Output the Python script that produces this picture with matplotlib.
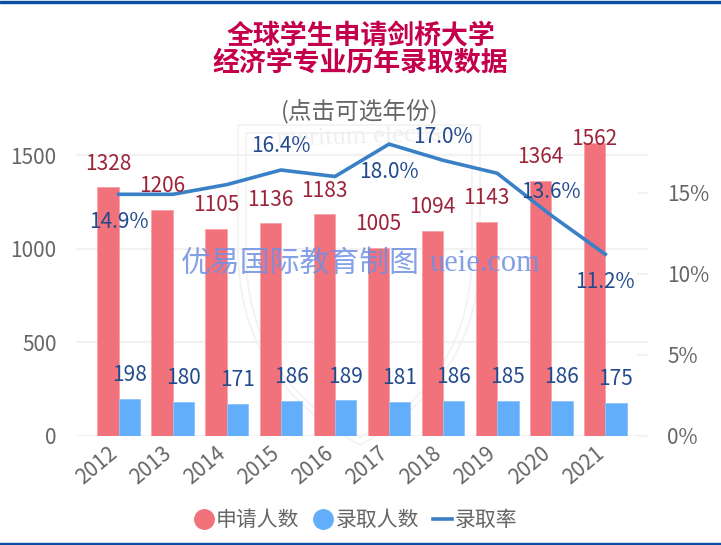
import matplotlib
matplotlib.use('Agg')
import matplotlib.pyplot as plt
import matplotlib.transforms as mtrans
import numpy as np
from matplotlib.lines import Line2D
from matplotlib.patches import PathPatch, Rectangle
from matplotlib.path import Path

plt.rcParams['font.family'] = ['Noto Sans CJK SC', 'DejaVu Sans']

years = ['2012', '2013', '2014', '2015', '2016', '2017', '2018', '2019', '2020', '2021']
applicants = [1328, 1206, 1105, 1136, 1183, 1005, 1094, 1143, 1364, 1562]
admitted = [198, 180, 171, 186, 189, 181, 186, 185, 186, 175]
admit_rate = [14.9, 14.9, 15.5, 16.4, 16.0, 18.0, 17.0, 16.2, 13.6, 11.2]

# only these rate labels are shown in the chart, True = above the line
rate_labels = {0: False, 3: True, 5: False, 6: True, 8: True, 9: False}

W, H = 721, 545
RED = '#f2727c'
BLUE = '#62aefb'
LINE = '#3a80c6'
GRAY = '#666666'
RULE = '#0b4da2'


def px(px_x, px_y):
    return px_x / W, 1 - px_y / H


fig = plt.figure(figsize=(W / 100, H / 100), dpi=100)
ax = fig.add_axes([76 / W, 1 - 435.7 / H, 572 / W, 305.7 / H])
ax2 = ax.twinx()

x = np.arange(len(years))
width = 0.395

# faint crest behind the chart
for inset in (0, 8):
    verts = [(238 + inset, 125 + inset), (480 - inset, 125 + inset), (480 - inset, 250),
             (480 - inset, 380), (360, 445 - inset), (238 + inset, 380), (238 + inset, 250), (238 + inset, 125 + inset)]
    codes = [Path.MOVETO, Path.LINETO, Path.LINETO, Path.CURVE3, Path.CURVE3, Path.CURVE3, Path.CURVE3, Path.LINETO]
    fig.add_artist(PathPatch(Path([px(*v) for v in verts], codes), transform=fig.transFigure, fill=False,
                             ec='#f3f3f3', lw=1.3, zorder=-1))
fig.text(*px(359, 137), 'meritum electis', family='Liberation Serif', fontsize=19,
         color='#efefef', ha='center', va='center', rotation=2, zorder=-1)

ax.set_zorder(ax2.get_zorder() - 1)
ax.patch.set_visible(False)
ax2.patch.set_visible(False)

ax.bar(x - width / 2, applicants, width, color=RED, edgecolor='#f7a3aa', linewidth=0.6, zorder=3)
ax.bar(x + width / 2, admitted, width, color=BLUE, edgecolor='#8cc4fc', linewidth=0.6, zorder=3)

ax2.plot(x, admit_rate, color=LINE, lw=2.6, solid_joinstyle='miter', zorder=4)

scale = 18.87 / 1634
for i, v in enumerate(applicants):
    # the tallest label gets pushed down against the top of the plot
    dy = 3 if i == 9 else 17
    ax2.annotate(str(v), (x[i] - width / 2, v * scale), xytext=(0, dy), textcoords='offset points',
                 ha='center', va='center', fontsize=15, color='#9c2339', zorder=6)
for i, v in enumerate(admitted):
    ax2.annotate(str(v), (x[i] + width / 2, v * scale), xytext=(0, 17), textcoords='offset points',
                 ha='center', va='center', fontsize=15, color='#224a8c', zorder=6)
for i, above in rate_labels.items():
    ax2.annotate(f'{admit_rate[i]:.1f}%', (x[i], admit_rate[i]), xytext=(0, 17 if above else -20),
                 textcoords='offset points', ha='center', va='center', fontsize=15, color='#224a8c', zorder=6)

ax.set_xlim(-0.79, 9.79)
ax.set_ylim(0, 1634)
ax2.set_ylim(0, 18.87)

ax.set_yticks([0, 500, 1000, 1500])
ax2.set_yticks([0, 5, 10, 15])
ax2.set_yticklabels(['0%', '5%', '10%', '15%'])
ax.set_xticks(x)
ax.set_xticklabels(years, rotation=40, ha='right', rotation_mode='anchor')

ax.grid(axis='y', color='#f2f2f2', lw=1.6, zorder=1)
ax.set_axisbelow(True)
for s in ['top', 'right', 'left', 'bottom']:
    ax.spines[s].set_visible(False)
    ax2.spines[s].set_visible(False)

ax.tick_params(axis='x', length=0, pad=5, labelsize=15, labelcolor=GRAY)
ax.tick_params(axis='y', length=0, pad=14, labelsize=15, labelcolor=GRAY)
ax2.tick_params(axis='y', length=8, width=1.6, color='#f2f2f2', direction='in', pad=14, labelsize=15, labelcolor=GRAY)

# year labels end left of the bar pair
shift = mtrans.ScaledTranslation(-11 / 100, 0, fig.dpi_scale_trans)
for lab in ax.get_xticklabels():
    lab.set_transform(lab.get_transform() + shift)

# watermark over the bars
fig.text(*px(300, 263), '优易国际教育制图', fontsize=21.5, color='#6f8fe3', alpha=0.85, ha='center', va='center', zorder=10)
fig.text(*px(485, 263), 'ueie.com', family='Liberation Serif', fontsize=22, color='#6f8fe3', alpha=0.85,
         ha='center', va='center', zorder=10)

fig.text(*px(361, 36), '全球学生申请剑桥大学', fontsize=19.4, fontweight='bold', color='#c4004c', ha='center', va='center')
fig.text(*px(360, 62), '经济学专业历年录取数据', fontsize=19.4, fontweight='bold', color='#c4004c', ha='center', va='center')
fig.text(*px(360, 111), '(点击可选年份)', fontsize=17, color=GRAY, ha='center', va='center')

handles = [
    Line2D([], [], ls='none', marker='o', ms=14, color=RED),
    Line2D([], [], ls='none', marker='o', ms=14, color=BLUE),
    Line2D([], [], color=LINE, lw=2.6),
]
fig.legend(handles, ['申请人数', '录取人数', '录取率'], loc='center', bbox_to_anchor=px(356, 520), ncol=3, frameon=False,
           fontsize=15, labelcolor=GRAY, handlelength=0.9, handletextpad=0.12, columnspacing=0.7)

# blue rules along top and bottom edge
fig.add_artist(Rectangle(px(0, 3), 1, 2 / H, transform=fig.transFigure, color=RULE))
fig.add_artist(Rectangle(px(0, 545), 1, 2.5 / H, transform=fig.transFigure, color=RULE))

plt.savefig('out.png', dpi=100)
